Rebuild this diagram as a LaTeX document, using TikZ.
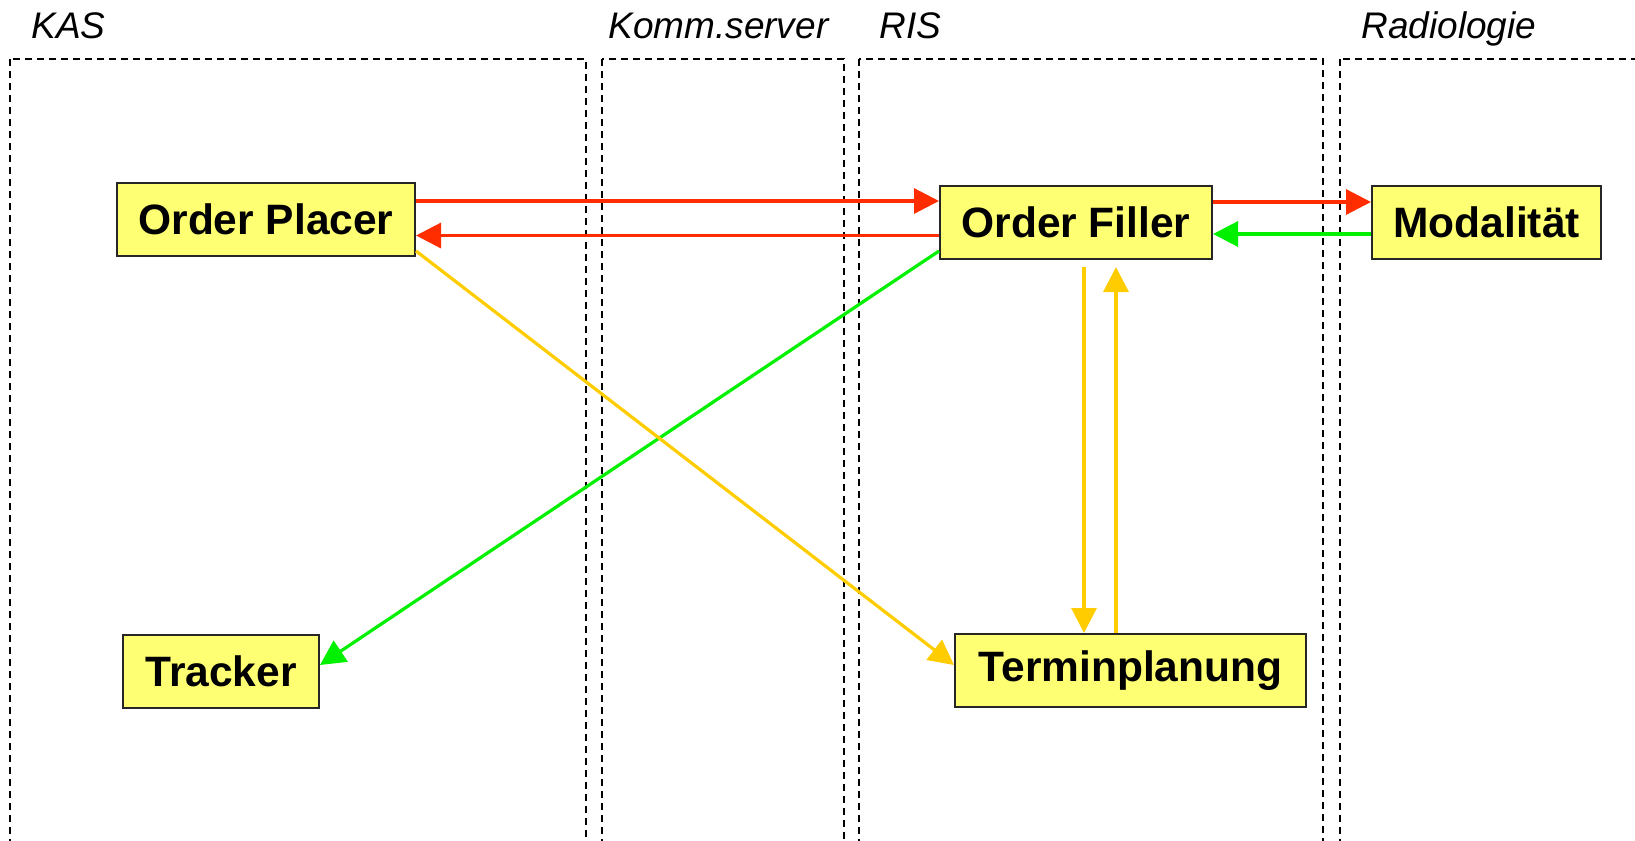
\documentclass[tikz,border=0pt]{standalone}
\usepackage{fontspec}
\setmainfont{Liberation Sans}
\usetikzlibrary{arrows.meta}

\definecolor{msgred}{RGB}{255,45,0}
\definecolor{msggreen}{RGB}{0,240,0}
\definecolor{msgyellow}{RGB}{255,204,0}
\definecolor{boxfill}{RGB}{255,255,115}

\begin{document}
\begin{tikzpicture}[x=0.5pt, y=-0.5pt,
    lane/.style={draw=black, line width=0.9pt, dash pattern=on 3.5pt off 2.5pt},
    lane label/.style={anchor=base west, inner sep=0pt, font=\fontsize{18.5}{22}\selectfont\itshape},
    main node/.style={draw=black!85, line width=1pt, fill=boxfill, inner sep=0pt, minimum height=36.5pt, font=\fontsize{21.25}{25}\selectfont\bfseries},
    msg/.style={line width=1.6pt, -{Triangle[length=12.5pt,width=12.5pt]}}]

    \useasboundingbox (0,0) rectangle (1635,841);
    \clip (0,0) rectangle (1635,841);

    % swimlanes
    \draw[lane] (10,59) rectangle (586,880);
    \draw[lane] (602,59) rectangle (844,880);
    \draw[lane] (859,59) rectangle (1323,880);
    \draw[lane] (1340,59) rectangle (1700,880);

    \node[lane label] (kas) at (31,38) {KAS};
    \node[lane label] (komm) at (608,38) {Komm.server};
    \node[lane label] (ris) at (879,38) {RIS};
    \node[lane label] (radio) at (1361,38) {Radiologie};

    % systems
    \node[main node, minimum width=149pt] at (266,219.5) (placer) {Order Placer};
    \node[main node, minimum width=136pt] at (1076,222.5) (filler) {Order Filler};
    \node[main node, minimum width=114.5pt] at (1486.5,222.5) (modal) {Modalität};
    \node[main node, minimum width=98pt] at (221,671) (tracker) {Tracker};
    \node[main node, minimum width=175.5pt] at (1130.5,670.5) (termin) {Terminplanung};

    % messages
    \draw[msg, msgred] ([yshift=9.25pt]placer.east) -- ([yshift=10.75pt]filler.west);
    \draw[msg, msgred] ([yshift=-6.5pt]filler.west) -- ([yshift=-8pt]placer.east);
    \draw[msg, msgred] ([yshift=10.25pt]filler.east) -- ([yshift=10.25pt]modal.west);
    \draw[msg, msggreen] ([yshift=-5.75pt]modal.west) -- ([yshift=-5.75pt]filler.east);
    \draw[msg, msggreen] ([yshift=4.5pt]filler.south west) -- ([yshift=3pt]tracker.east);
    \draw[msg, msgyellow] ([yshift=3pt]placer.south east) -- ([yshift=2.75pt]termin.west);
    \draw[msg, msgyellow] ([xshift=4pt,yshift=-3.5pt]filler.south) -- ([xshift=-23.25pt]termin.north);
    \draw[msg, msgyellow] ([xshift=-7.25pt]termin.north) -- ([xshift=20pt,yshift=-3.5pt]filler.south);
\end{tikzpicture}
\end{document}
